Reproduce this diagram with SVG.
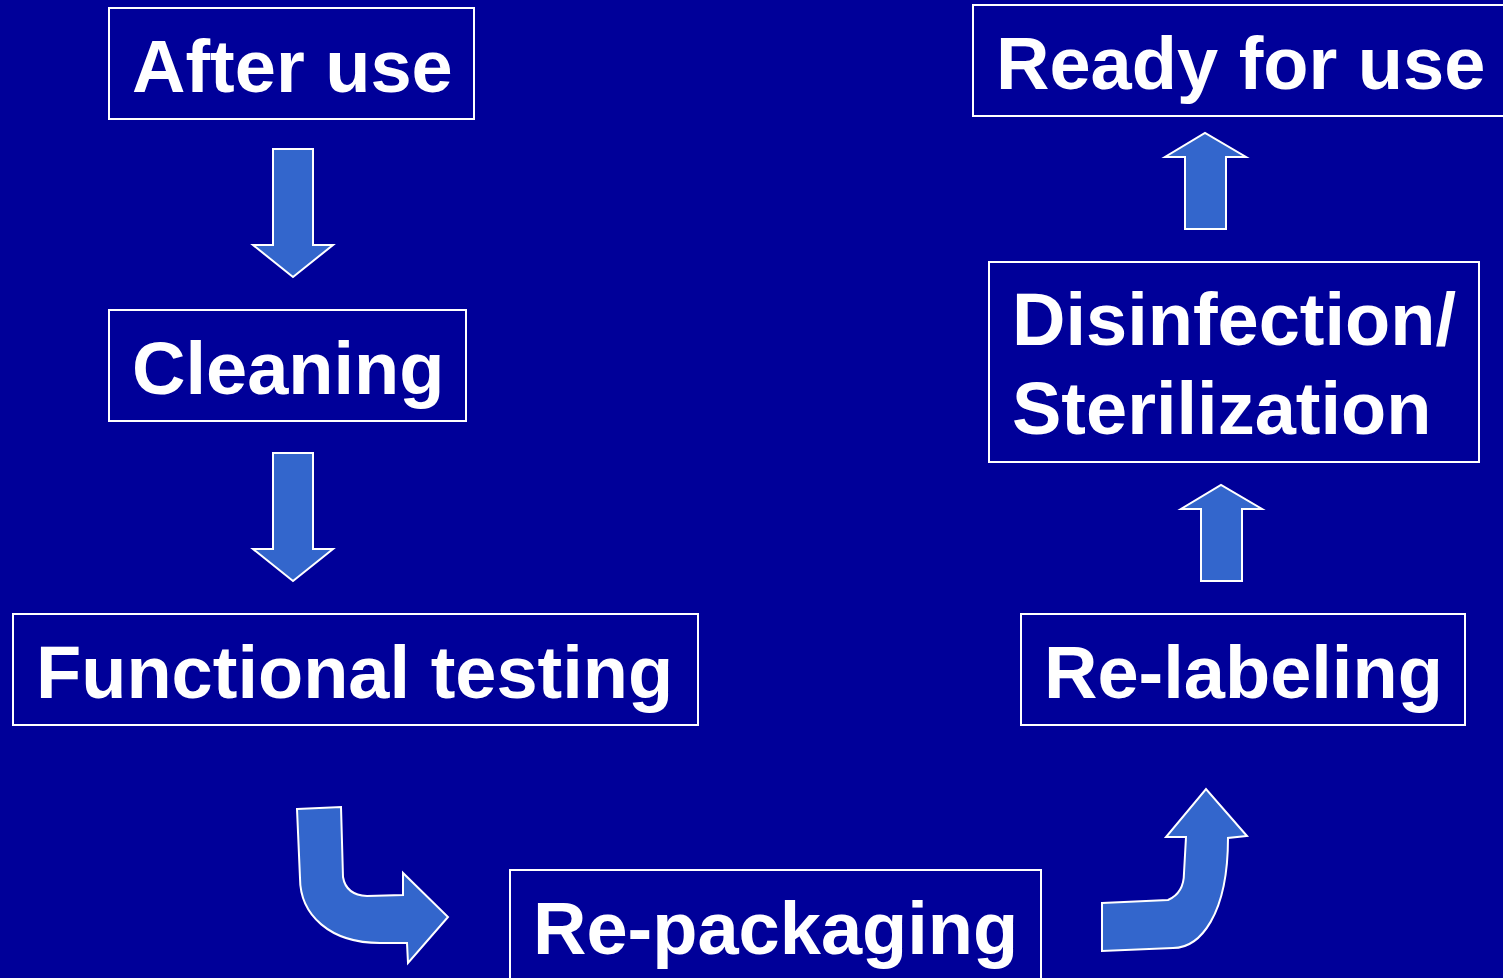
<svg xmlns="http://www.w3.org/2000/svg" width="1503" height="978" viewBox="0 0 1503 978">
<style>
.box{fill:none;stroke:#ffffff;stroke-width:2}
.lbl{font-family:"Liberation Sans",Arial,sans-serif;font-weight:bold;font-size:74px;fill:#ffffff}
.arr{fill:#3366cc;stroke:#ffffff;stroke-width:2;stroke-linejoin:miter}
</style>
<rect x="0" y="0" width="1503" height="978" fill="#000099"/>
<g id="connectors">
<path class="arr" d="M273 149 L313 149 L313 245 L333 245 L293 277 L253 245 L273 245 Z"/>
<path class="arr" d="M273 453 L313 453 L313 549 L333 549 L293 581 L253 549 L273 549 Z"/>
<path class="arr" d="M1185 229 L1226 229 L1226 157 L1246 157 L1205 133 L1165 157 L1185 157 Z"/>
<path class="arr" d="M1201 581 L1242 581 L1242 509 L1262 509 L1221 485 L1181 509 L1201 509 Z"/>
<path class="arr" d="M297 809 L341 807 L343 877 Q346 895 367 896 L403 895 L403 873 L448 917 L408 963 L407 943 L380 943 C330 943 300 915 300 878 Z"/>
<path class="arr" d="M1102 903 L1168 900 Q1184 893 1184 873 L1186 837 L1166 837 L1206 789 L1247 836 L1228 838 C1228 915 1200 948 1173 948 L1102 951 Z"/>
</g>
<g id="after-use">
<rect class="box" x="109" y="8" width="365" height="111"/>
<text class="lbl" x="132" y="92">After use</text>
</g>
<g id="cleaning">
<rect class="box" x="109" y="310" width="357" height="111"/>
<text class="lbl" x="132" y="394">Cleaning</text>
</g>
<g id="functional-testing">
<rect class="box" x="13" y="614" width="685" height="111"/>
<text class="lbl" x="36" y="698">Functional testing</text>
</g>
<g id="re-packaging">
<rect class="box" x="510" y="870" width="531" height="120"/>
<text class="lbl" x="533" y="954">Re-packaging</text>
</g>
<g id="re-labeling">
<rect class="box" x="1021" y="614" width="444" height="111"/>
<text class="lbl" x="1044" y="698">Re-labeling</text>
</g>
<g id="disinfection">
<rect class="box" x="989" y="262" width="490" height="200"/>
<text class="lbl" x="1012" y="345">Disinfection/</text>
<text class="lbl" x="1012" y="434">Sterilization</text>
</g>
<g id="ready-for-use">
<rect class="box" x="973" y="5" width="540" height="111"/>
<text class="lbl" x="996" y="89">Ready for use</text>
</g>
</svg>
